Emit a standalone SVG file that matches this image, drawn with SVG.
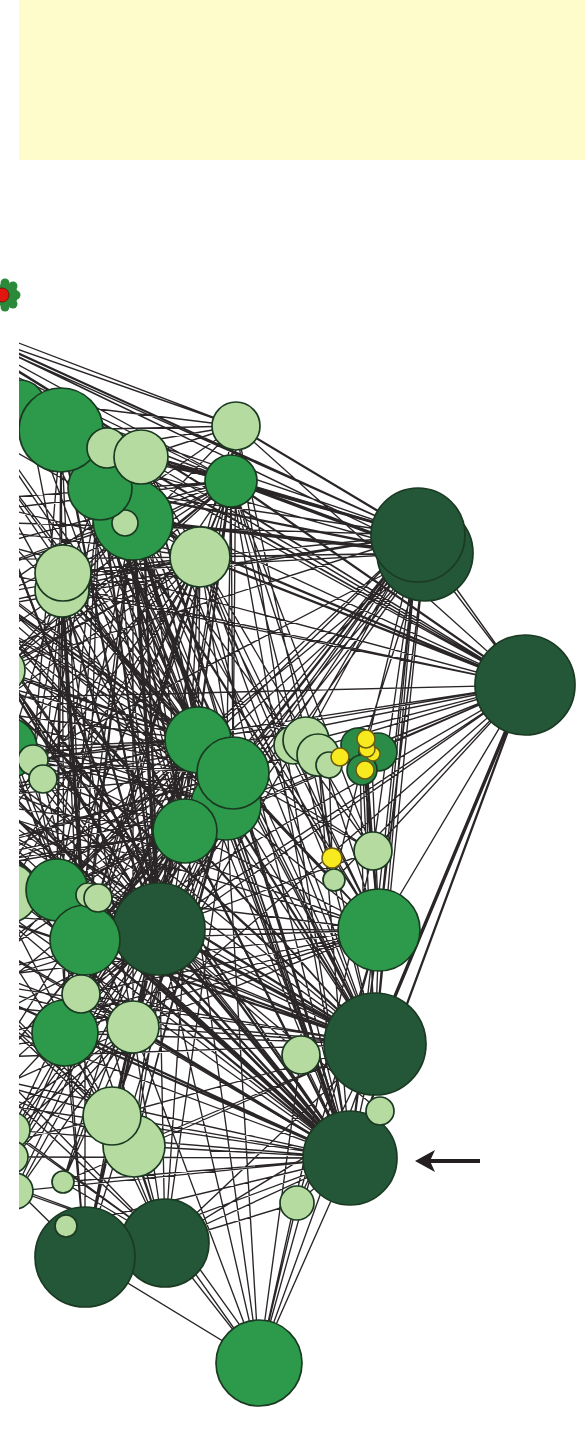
<svg xmlns="http://www.w3.org/2000/svg" width="585" height="1440" viewBox="0 0 585 1440">
<defs>
<clipPath id="clip"><rect x="19" y="0" width="566" height="1440"/></clipPath>
<marker id="ah" markerUnits="userSpaceOnUse" markerWidth="20" markerHeight="22" viewBox="0 0 20 22" refX="5" refY="11" orient="auto"><path d="M0 0L20 11L0 22L5 11z" fill="#231f20"/></marker>
<style>
.e{fill:none;stroke:#2a2526;stroke-linecap:round}
.e1{stroke-width:1.35}
.e2{stroke-width:2.3}
.e3{stroke-width:3.4}
circle{stroke:#1b3a22;stroke-width:1.7}
.dk{fill:#245638}
.md{fill:#2c9a4a}
.bl{fill:#2a8c47}
.lt{fill:#b6dba0}
.yl{fill:#f7ea1e;stroke:#6b5a12;stroke-width:1.5}
.gr{fill:#2b8a3a;stroke:none}
.rd{fill:#e3150f;stroke:#6a1a10;stroke-width:1}
</style>
</defs>
<rect id="banner" x="19" y="0" width="566" height="160" fill="#fffccb"/>
<g id="blob-redgreen">
<circle class="gr" cx="6" cy="295" r="12"/>
<circle class="gr" cx="16" cy="295" r="4.5"/>
<circle class="gr" cx="13" cy="286" r="4.5"/>
<circle class="gr" cx="13" cy="304" r="4.5"/>
<circle class="gr" cx="5" cy="283" r="4.5"/>
<circle class="gr" cx="5" cy="307" r="4.5"/>
<circle class="rd" cx="2" cy="295" r="7"/>
</g>
<g id="connectors" clip-path="url(#clip)">
<path class="e e1" d="M-120 290L418 535M-120 290L425 553M-90 305L418 535M-90 305L525 685M-60 322L236 426M-60 322L231 481M-60 322L525 685M-120 290L236 426M-90 305L425 553M-60 322L418 535
M418 535L61 430M418 535L141 457M418 535L100 488M418 535L200 557M418 535L198 740M418 535L233 773M418 535L226 805M418 535L185 831M418 535L57 890M418 535L85 940M418 535L379 930M418 535L375 1044M418 535L350 1158M418 535L373 851M418 535L334 880M418 535L306 740M418 535L-90 520M418 535L-30 610M418 535L-100 700M418 535L62 590M418 535L133 1027M418 535L81 994M418 535L525 685M418 535L159 929M418 535L25 400
M425 553L200 557M425 553L198 740M425 553L233 773M425 553L159 929M425 553L379 930M425 553L350 1158M425 553L525 685M425 553L362 750M425 553L-40 420M425 553L-50 800M425 553L63 573M425 553L375 1044M425 553L226 805M425 553L57 890
M525 685L61 430M525 685L141 457M525 685L236 426M525 685L100 488M525 685L198 740M525 685L233 773M525 685L226 805M525 685L185 831M525 685L159 929M525 685L57 890M525 685L85 940M525 685L379 930M525 685L373 851M525 685L293 745M525 685L362 750M525 685L-90 520M525 685L-100 700M525 685L-50 800M525 685L62 590M525 685L33 760M525 685L133 1027M525 685L81 994M525 685L334 880M525 685L107 448M525 685L25 400
M159 929L200 557M159 929L198 740M159 929L233 773M159 929L226 805M159 929L185 831M159 929L57 890M159 929L85 940M159 929L81 994M159 929L65 1033M159 929L133 1027M159 929L112 1116M159 929L134 1146M159 929L379 930M159 929L301 1055M159 929L380 1111M159 929L165 1243M159 929L85 1257M159 929L-100 700M159 929L-120 880M159 929L-40 980M159 929L373 851M159 929L231 481M159 929L236 426M159 929L107 448M159 929L-150 620M159 929L-200 900M159 929L-40 420M159 929L-30 610M159 929L-50 800M159 929L-90 1060M159 929L-60 1160
M350 1158L61 430M350 1158L100 488M350 1158L133 520M350 1158L200 557M350 1158L62 590M350 1158L226 805M350 1158L112 1116M350 1158L134 1146M350 1158L63 1182M350 1158L165 1243M350 1158L85 1257M350 1158L259 1363M350 1158L297 1203M350 1158L375 1044M350 1158L379 930M350 1158L-120 880M350 1158L-90 1060M350 1158L33 760M350 1158L43 779M350 1158L88 895M350 1158L231 481M350 1158L318 755M350 1158L236 426M350 1158L107 448M350 1158L141 457M350 1158L301 1055M350 1158L380 1111M350 1158L-90 520M350 1158L66 1226M350 1158L18 1191M350 1158L14 1157
M375 1044L61 430M375 1044L100 488M375 1044L133 520M375 1044L200 557M375 1044L198 740M375 1044L233 773M375 1044L185 831M375 1044L57 890M375 1044L81 994M375 1044L65 1033M375 1044L133 1027M375 1044L112 1116M375 1044L165 1243M375 1044L259 1363M375 1044L297 1203M375 1044L379 930M375 1044L-100 700M375 1044L-90 1060M375 1044L231 481M375 1044L236 426M375 1044L362 750M375 1044L63 573M375 1044L134 1146M375 1044L-50 800M375 1044L-40 980M375 1044L141 457M375 1044L63 1182M375 1044L33 760
M379 930L198 740M379 930L233 773M379 930L226 805M379 930L185 831M379 930L200 557M379 930L133 520M379 930L231 481M379 930L85 940M379 930L57 890M379 930L81 994M379 930L65 1033M379 930L133 1027M379 930L259 1363M379 930L362 750M379 930L-50 800M379 930L-40 980M379 930L100 488M379 930L61 430M379 930L141 457M379 930L62 590
M373 851L362 750M373 851L198 740M373 851L200 557M373 851L231 481M373 851L133 520M373 851L233 773M373 851L259 1363M334 880L318 755M334 880L198 740M334 880L200 557M332 858L329 765M366 760L368 851M360 765L364 930M372 765L379 930M318 755L332 858
M61 430L198 740M61 430L233 773M61 430L226 805M61 430L185 831M61 430L200 557M61 430L231 481M61 430L57 890M61 430L85 940M61 430L236 426
M100 488L198 740M100 488L233 773M100 488L226 805M100 488L185 831M100 488L85 940M100 488L57 890M100 488L65 1033
M133 520L198 740M133 520L233 773M133 520L226 805M133 520L185 831M133 520L57 890M133 520L85 940M133 520L81 994M133 520L65 1033M133 520L133 1027
M141 457L198 740M141 457L233 773M141 457L185 831M141 457L85 940M141 457L200 557M141 457L236 426
M107 448L226 805M107 448L231 481M107 448L236 426M236 426L200 557M236 426L198 740M236 426L233 773
M231 481L198 740M231 481L233 773M231 481L226 805M231 481L185 831M231 481L57 890M231 481L85 940M231 481L200 557
M200 557L198 740M200 557L233 773M200 557L185 831M200 557L57 890M200 557L85 940M200 557L81 994M200 557L65 1033
M62 590L198 740M62 590L233 773M62 590L185 831M62 590L57 890M62 590L81 994M62 590L65 1033M62 590L133 1027
M63 573L226 805M63 573L231 481M63 573L200 557
M25 400L200 557M25 400L198 740M25 400L185 831M25 400L133 520M25 400L231 481M25 400L236 426M25 400L141 457
M198 740L57 890M198 740L85 940M198 740L81 994M198 740L65 1033M198 740L133 1027M198 740L112 1116M198 740L33 760M198 740L43 779
M233 773L57 890M233 773L85 940M233 773L65 1033M233 773L133 1027M233 773L112 1116M233 773L134 1146M233 773L33 760
M226 805L57 890M226 805L85 940M226 805L81 994M226 805L134 1146M226 805L112 1116M226 805L33 760
M185 831L57 890M185 831L85 940M185 831L81 994M185 831L65 1033M185 831L133 1027M185 831L112 1116M185 831L134 1146M185 831L33 760M185 831L43 779
M10 748L198 740M10 748L233 773M10 748L226 805M10 748L159 929
M-80 330L200 557M-80 330L198 740M-80 330L231 481M-80 330L133 520M-80 330L233 773
M-40 420L200 557M-40 420L198 740M-40 420L233 773M-40 420L226 805M-40 420L185 831M-40 420L231 481
M-90 520L198 740M-90 520L233 773M-90 520L226 805M-90 520L185 831M-90 520L200 557M-90 520L231 481M-90 520L85 940
M-30 610L198 740M-30 610L233 773M-30 610L226 805M-30 610L185 831M-30 610L236 426M-30 610L231 481M-30 610L200 557
M-100 700L198 740M-100 700L233 773M-100 700L226 805M-100 700L200 557M-100 700L231 481M-100 700L133 1027
M-50 800L198 740M-50 800L233 773M-50 800L185 831M-50 800L200 557M-50 800L133 1027M-50 800L112 1116
M-120 880L185 831M-120 880L226 805M-120 880L233 773M-120 880L133 1027M-120 880L112 1116M-120 880L134 1146
M-40 980L133 1027M-40 980L112 1116M-40 980L134 1146M-40 980L185 831
M-90 1060L133 1027M-90 1060L112 1116M-90 1060L134 1146M-90 1060L165 1243
M-60 1160L133 1027M-60 1160L165 1243M-60 1160L112 1116
M-150 620L198 740M-150 620L200 557M-150 620L231 481M-150 620L133 520
M-200 900L185 831M-200 900L233 773M-200 900L133 1027M-200 900L165 1243
M-20 680L200 557M-20 680L198 740M-20 680L231 481M-20 680L233 773
M-30 500L231 481M-30 500L200 557M-30 500L198 740
M-60 560L198 740M-60 560L233 773M-60 560L226 805M-60 560L185 831M-60 560L159 929M-60 560L200 557M-60 560L231 481M-60 560L85 940M-60 560L133 1027M-60 560L350 1158M-60 560L375 1044M-60 560L525 685
M-80 760L198 740M-80 760L233 773M-80 760L200 557M-80 760L231 481M-80 760L236 426M-80 760L159 929M-80 760L133 1027M-80 760L350 1158M-80 760L375 1044M-80 760L379 930M-80 760L133 520
M-40 880L200 557M-40 880L231 481M-40 880L198 740M-40 880L233 773M-40 880L159 929M-40 880L133 1027M-40 880L112 1116M-40 880L350 1158M-40 880L375 1044
M-70 1000L198 740M-70 1000L233 773M-70 1000L185 831M-70 1000L200 557M-70 1000L159 929M-70 1000L165 1243M-70 1000L350 1158M-70 1000L375 1044
M-30 1100L159 929M-30 1100L185 831M-30 1100L198 740M-30 1100L233 773M-30 1100L133 1027M-30 1100L165 1243M-30 1100L350 1158
M-90 1060L350 1158M-90 1060L375 1044M-90 1060L379 930M-90 1060L198 740M-90 1060L226 805
M62 590L43 779M62 590L33 760M33 760L57 890M43 779L85 940M63 573L10 748M61 430L62 590M100 488L62 590M133 520L62 590M25 400L62 590M61 430L33 760M100 488L43 779M10 748L57 890
M2 670L198 740M2 670L200 557M2 670L233 773M2 670L159 929M2 670L231 481M2 670L350 1158
M8 893L198 740M8 893L233 773M8 893L200 557M8 893L159 929M8 893L350 1158M8 893L375 1044
M12 1130L198 740M12 1157L233 773M15 1191L185 831M12 1130L350 1158M57 890L81 994M85 940L65 1033
M15 1130L159 929M15 1130L185 831M15 1130L133 1027M14 1157L159 929M14 1157L133 1027M14 1157L198 740
M18 1191L165 1243M18 1191L159 929M18 1191L133 1027M18 1191L85 1257
M63 1182L159 929M63 1182L133 1027M63 1182L165 1243M63 1182L198 740
M112 1116L165 1243M112 1116L85 1257M134 1146L165 1243M133 1027L165 1243M133 1027L85 1257M81 994L165 1243M65 1033L165 1243M65 1033L85 1257M85 940L85 1257M85 940L165 1243M57 890L85 1257
M259 1363L85 1257M259 1363L165 1243M255 1358L170 1238M262 1356L176 1236M259 1363L133 1027M259 1363L185 831M259 1363L297 1203M259 1363L301 1055M259 1363L379 930M259 1363L226 805M259 1363L159 929
M165 1243L380 1111M165 1243L297 1203M297 1203L379 930M297 1203L375 1044M85 1257L198 740M85 1257L226 805M165 1243L233 773M165 1243L198 740"/>
<path class="e e2" d="M159 929L61 430M159 929L100 488M159 929L200 557M159 929L62 590M159 929L141 457M159 929L-90 520M350 1158L85 940M350 1158L185 831M350 1158L198 740M350 1158L233 773M375 1044L226 805M107 448L185 831M418 535L236 426M525 685L231 481M525 685L133 520M525 685L200 557M418 535L61 430M418 535L141 457M425 553L100 488M350 1158L57 890M350 1158L81 994M350 1158L65 1033M375 1044L85 940M350 1158L133 1027M350 1158L-100 700M375 1044L-120 880M350 1158L-40 980M525 685L350 1158M62 590L198 740M-40 420L159 929M-150 620L350 1158M-20 680L375 1044M-60 560L198 740M-80 760L375 1044M2 670L350 1158M61 430L198 740M366 760L379 930"/>
<path class="e e3" d="M62 590L85 940M159 929L350 1158M159 929L375 1044M525 685L375 1044M425 553L231 481M425 553L133 520M350 1158L-50 800M159 929L133 520"/>
</g>
<g id="nodes" clip-path="url(#clip)">
<g id="node-A"><circle class="md" cx="20" cy="405" r="25"/></g>
<g id="node-S"><circle class="md" cx="6" cy="748" r="31"/></g>
<g id="node-Sl"><circle class="lt" cx="2" cy="670" r="23"/></g>
<g id="node-T"><circle class="lt" cx="33" cy="760" r="15"/></g>
<g id="node-U"><circle class="lt" cx="43" cy="779" r="14"/></g>
<g id="node-Y"><circle class="lt" cx="8" cy="893" r="30"/></g>
<g id="node-f"><circle class="lt" cx="12" cy="1130" r="18"/></g>
<g id="node-g"><circle class="lt" cx="12" cy="1157" r="16"/></g>
<g id="node-h"><circle class="lt" cx="15" cy="1191" r="18"/></g>
<g id="node-F"><circle class="md" cx="133" cy="520" r="40"/></g>
<g id="node-G"><circle class="lt" cx="125" cy="523" r="13"/></g>
<g id="node-E"><circle class="md" cx="100" cy="488" r="32"/></g>
<g id="node-B"><circle class="md" cx="61" cy="430" r="42"/></g>
<g id="node-C"><circle class="lt" cx="107" cy="448" r="20"/></g>
<g id="node-D"><circle class="lt" cx="141" cy="457" r="27"/></g>
<g id="node-H"><circle class="lt" cx="236" cy="426" r="24"/></g>
<g id="node-I"><circle class="md" cx="231" cy="481" r="26"/></g>
<g id="node-J"><circle class="lt" cx="200" cy="557" r="30"/></g>
<g id="node-K"><circle class="lt" cx="62" cy="590" r="27"/></g>
<g id="node-K2"><circle class="lt" cx="63" cy="573" r="28"/></g>
<g id="node-M2"><circle class="dk" cx="425" cy="553" r="48"/></g>
<g id="node-M"><circle class="dk" cx="418" cy="535" r="47"/></g>
<g id="node-N"><circle class="dk" cx="525" cy="685" r="50"/></g>
<g id="node-cluster"><circle class="bl" cx="358" cy="745" r="17"/><circle class="bl" cx="378" cy="752" r="19"/><circle class="bl" cx="362" cy="770" r="15"/></g>
<g id="node-w1"><circle class="lt" cx="293" cy="745" r="19"/></g>
<g id="node-w2"><circle class="lt" cx="306" cy="740" r="23"/></g>
<g id="node-w3"><circle class="lt" cx="318" cy="755" r="21"/></g>
<g id="node-w4"><circle class="lt" cx="329" cy="765" r="13"/></g>
<g id="node-y4"><circle class="yl" cx="373" cy="754" r="7"/></g>
<g id="node-y3"><circle class="yl" cx="367" cy="749" r="8"/></g>
<g id="node-y2"><circle class="yl" cx="366" cy="739" r="9"/></g>
<g id="node-y5"><circle class="yl" cx="365" cy="770" r="9"/></g>
<g id="node-y1"><circle class="yl" cx="340" cy="757" r="9"/></g>
<g id="node-O"><circle class="md" cx="198" cy="740" r="33"/></g>
<g id="node-Q"><circle class="md" cx="226" cy="805" r="35"/></g>
<g id="node-P"><circle class="md" cx="233" cy="773" r="36"/></g>
<g id="node-R"><circle class="md" cx="185" cy="831" r="32"/></g>
<g id="node-s"><circle class="md" cx="379" cy="930" r="41"/></g>
<g id="node-t"><circle class="lt" cx="373" cy="851" r="19"/></g>
<g id="node-u"><circle class="lt" cx="334" cy="880" r="11"/></g>
<g id="node-v"><circle class="yl" cx="332" cy="858" r="10"/></g>
<g id="node-V"><circle class="dk" cx="159" cy="929" r="46"/></g>
<g id="node-W"><circle class="md" cx="57" cy="890" r="31"/></g>
<g id="node-Z"><circle class="md" cx="85" cy="940" r="35"/></g>
<g id="node-X"><circle class="lt" cx="88" cy="895" r="12"/></g>
<g id="node-X2"><circle class="lt" cx="98" cy="898" r="14"/></g>
<g id="node-b"><circle class="md" cx="65" cy="1033" r="33"/></g>
<g id="node-a"><circle class="lt" cx="81" cy="994" r="19"/></g>
<g id="node-c"><circle class="lt" cx="133" cy="1027" r="26"/></g>
<g id="node-e"><circle class="lt" cx="134" cy="1146" r="31"/></g>
<g id="node-d"><circle class="lt" cx="112" cy="1116" r="29"/></g>
<g id="node-i"><circle class="lt" cx="63" cy="1182" r="11"/></g>
<g id="node-l"><circle class="dk" cx="165" cy="1243" r="44"/></g>
<g id="node-j"><circle class="dk" cx="85" cy="1257" r="50"/></g>
<g id="node-k"><circle class="lt" cx="66" cy="1226" r="11"/></g>
<g id="node-m"><circle class="md" cx="259" cy="1363" r="43"/></g>
<g id="node-n"><circle class="lt" cx="297" cy="1203" r="17"/></g>
<g id="node-o"><circle class="dk" cx="375" cy="1044" r="51"/></g>
<g id="node-p"><circle class="lt" cx="301" cy="1055" r="19"/></g>
<g id="node-r"><circle class="dk" cx="350" cy="1158" r="47"/></g>
<g id="node-q"><circle class="lt" cx="380" cy="1111" r="14"/></g>
</g>
<g id="arrow"><line x1="480" y1="1161" x2="430" y2="1161" stroke="#231f20" stroke-width="4" marker-end="url(#ah)"/></g>
</svg>
